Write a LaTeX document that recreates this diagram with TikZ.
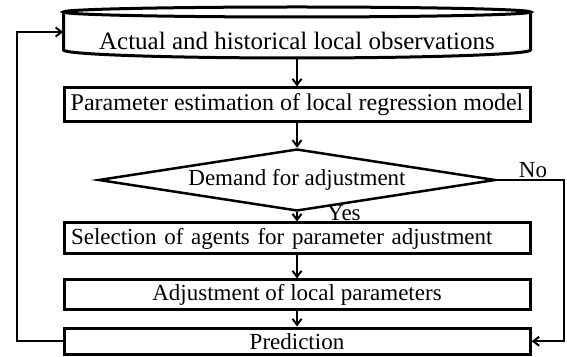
\documentclass[tikz,border=0pt]{standalone}
\usepackage{fontspec}
\setmainfont{Liberation Serif}
\usepackage{tikz}
\usetikzlibrary{positioning,
                arrows.meta,                % arrow tips
                shapes.geometric}           % diamond

\tikzset{
  procbox/.style={draw, line width=3pt, minimum width=466pt, inner sep=0pt},
  flow/.style={line width=2pt, -{Straight Barb[length=6pt, width=9pt]}},
  lbl/.style={inner sep=0pt},
}

\begin{document}
\begin{tikzpicture}[x=1pt, y=1pt, font=\fontsize{23}{27}\selectfont]
    \useasboundingbox (0,0) rectangle (567,356);

    % drum with the observations
    \node[minimum width=467pt, minimum height=34pt, inner sep=0pt, font=\fontsize{25}{29}\selectfont] (obs) at (297,315) {Actual and historical local observations};
    \draw[line width=3pt] (297,344) ellipse [x radius=233.5, y radius=5];
    \draw[line width=3pt] (63.5,344) -- (63.5,306) arc[start angle=180, end angle=360, x radius=233.5, y radius=8] -- (530.5,344);

    \node[procbox, minimum height=34pt, font=\fontsize{24}{28}\selectfont] (est) at (297,251) {Parameter estimation of local regression model};
    \node[draw, shape=diamond, line width=2.5pt, aspect=6.4, inner sep=0pt,
          minimum width=397pt, minimum height=62pt] (dem) at (297,176) {Demand for adjustment};
    \node[procbox, minimum height=31pt, text width=452pt, align=left, inner xsep=7pt] (sel) at (297,117.5) {Selection of agents for parameter adjustment};
    \node[procbox, minimum height=29pt] (adj) at (297,61.5) {Adjustment of local parameters};
    \node[procbox, minimum height=26.5pt] (pred) at (297,14.75) {Prediction};

    \node[lbl, anchor=west] (yes) at ([xshift=30pt, yshift=-1pt]dem.south) {Yes};
    \node[lbl, anchor=south west] (no) at ([xshift=22pt, yshift=2.5pt]dem.east) {No};

    % main flow
    \draw[flow] (obs.south) -- (est.north);
    \draw[flow] (est.south) -- (dem.north);
    \draw[flow] (dem.south) -- (sel.north);
    \draw[flow] (sel.south) -- (adj.north);
    \draw[flow] (adj.south) -- (pred.north);

    % skip and feedback
    \draw[flow] (dem.east) -- ++(67.5,0) |- (pred.east);
    \draw[flow] (pred.west) -- ++(-46,0) |- ([yshift=9pt]obs.west);
\end{tikzpicture}
\end{document}
